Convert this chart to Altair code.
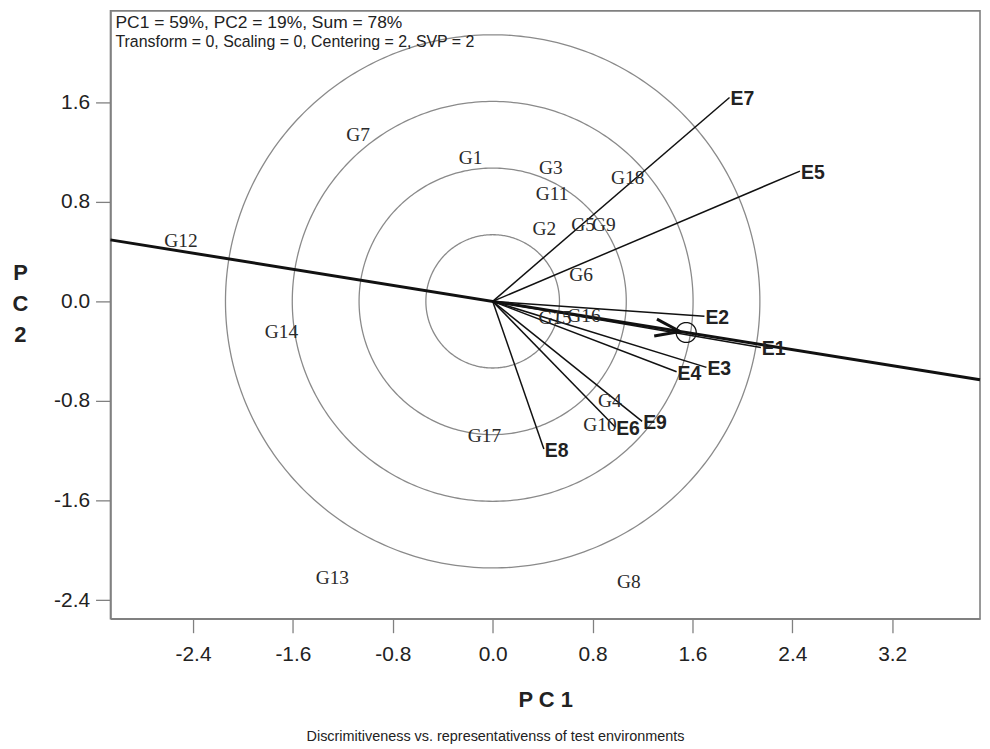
import numpy as np
import pandas as pd
import altair as alt

# ---- data ----
genotypes = ["G1", "G2", "G3", "G4", "G5", "G6", "G7", "G8", "G9", "G10",
             "G11", "G12", "G13", "G14", "G15", "G16", "G17", "G18"]
g_x = [-0.177, 0.413, 0.465, 0.939, 0.724, 0.708, -1.078, 1.090, 0.891, 0.859,
       0.476, -2.496, -1.284, -1.691, 0.500, 0.731, -0.065, 1.082]
g_y = [1.150, 0.583, 1.074, -0.799, 0.611, 0.208, 1.334, -2.252, 0.611, -0.990,
       0.863, 0.487, -2.220, -0.248, -0.136, -0.120, -1.078, 0.990]

envs = ["E1", "E2", "E3", "E4", "E5", "E6", "E7", "E8", "E9"]
e_x = [2.148, 1.696, 1.712, 1.473, 2.461, 0.981, 1.897, 0.410, 1.197]
e_y = [-0.370, -0.120, -0.530, -0.565, 1.046, -1.009, 1.637, -1.185, -0.964]

circle_radii = [0.535, 1.07, 1.605, 2.14]
aea_point = [1.55, -0.25]          # average environment coordinate
aea_marker_radius = 0.08

x_ticks = [-2.4, -1.6, -0.8, 0.0, 0.8, 1.6, 2.4, 3.2]
y_ticks = [-2.4, -1.6, -0.8, 0.0, 0.8, 1.6]
x_domain = [-3.061, 3.903]
y_domain = [-2.548, 2.332]

info_line1 = "PC1 = 59%, PC2 = 19%, Sum = 78%"
info_line2 = "Transform = 0, Scaling = 0, Centering = 2, SVP = 2"
caption = "Discrimitiveness vs. representativenss of test environments"

# ---- derived tables ----
theta = np.linspace(0, 2 * np.pi, 361)
circ = pd.concat([
    pd.DataFrame({"r": r, "i": np.arange(len(theta)),
                  "x": r * np.cos(theta), "y": r * np.sin(theta)})
    for r in circle_radii
])

ax, ay = aea_point
slope = ay / ax
aea_line = pd.DataFrame({"x": x_domain, "y": [slope * v for v in x_domain]})

mini = pd.DataFrame({"i": np.arange(len(theta)),
                     "x": ax + aea_marker_radius * np.cos(theta),
                     "y": ay + aea_marker_radius * np.sin(theta)})

norm = np.hypot(ax, ay)
d = np.array([ax, ay]) / norm
tip = np.array([ax, ay]) - 0.05 * d
barbs = []
for ang in (np.radians(19), -np.radians(19)):
    rx = -d[0] * np.cos(ang) + d[1] * np.sin(ang)
    ry = -d[0] * np.sin(ang) - d[1] * np.cos(ang)
    barbs.append({"x0": tip[0], "y0": tip[1], "x": tip[0] + 0.21 * rx, "y": tip[1] + 0.21 * ry})
barbs = pd.DataFrame(barbs)

geno = pd.DataFrame({"name": genotypes, "x": g_x, "y": g_y})
env = pd.DataFrame({"name": envs, "x": e_x, "y": e_y, "x0": 0.0, "y0": 0.0})

# ---- scales / axes ----
SANS = "Liberation Sans, Arial, sans-serif"
SERIF = "Liberation Serif, Times New Roman, serif"
label_expr = "datum.value < 0 ? '-' + format(-datum.value, '.1f') : format(datum.value, '.1f')"

xscale = alt.Scale(domain=x_domain, nice=False, zero=False)
yscale = alt.Scale(domain=y_domain, nice=False, zero=False)

xaxis = alt.Axis(values=x_ticks, labelExpr=label_expr, title="P C 1",
                 titleFont=SANS, titleFontSize=22, titleFontWeight="bold", titleColor="#222",
                 titleY=81, titleBaseline="middle",
                 labelFont=SANS, labelFontSize=21, labelColor="#222", labelPadding=11,
                 tickSize=14, tickColor="#808080", tickWidth=1.3,
                 domainColor="#808080", domainWidth=1.6, grid=False)
yaxis = alt.Axis(values=y_ticks, labelExpr=label_expr, title=["P", "C", "2"],
                 titleFont=SANS, titleFontSize=22, titleFontWeight="bold", titleColor="#222",
                 titleAngle=0, titleAlign="center", titleBaseline="middle",
                 titleX=-91, titleY=263, titleLineHeight=31,
                 labelFont=SANS, labelFontSize=21, labelColor="#222", labelPadding=6,
                 tickSize=15, tickColor="#808080", tickWidth=1.3,
                 domainColor="#808080", domainWidth=1.6, grid=False)


def X(field):
    return alt.X(field, type="quantitative", scale=xscale, axis=xaxis)


def Y(field):
    return alt.Y(field, type="quantitative", scale=yscale, axis=yaxis)


circles = alt.Chart(circ).mark_line(color="#8a8a8a", strokeWidth=1.3).encode(
    x=X("x"), y=Y("y"), detail="r:N", order="i:Q")

axis_line = alt.Chart(aea_line).mark_line(color="#111", strokeWidth=3).encode(
    x=X("x"), y=Y("y"))

vectors = alt.Chart(env).mark_rule(color="#111", strokeWidth=1.5).encode(
    x=X("x0"), y=Y("y0"), x2="x", y2="y")

arrow = alt.Chart(barbs).mark_rule(color="#111", strokeWidth=3).encode(
    x=X("x0"), y=Y("y0"), x2="x", y2="y")

marker = alt.Chart(mini).mark_line(color="#111", strokeWidth=1.3).encode(
    x=X("x"), y=Y("y"), order="i:Q")

geno_text = alt.Chart(geno).mark_text(font=SERIF, fontSize=19.5, color="#2a2a2a",
                                      align="center", baseline="middle").encode(
    x=X("x"), y=Y("y"), text="name")

env_text = alt.Chart(env).mark_text(font=SANS, fontSize=19.5, fontWeight="bold", color="#222",
                                    align="left", baseline="middle", dx=1, dy=2).encode(
    x=X("x"), y=Y("y"), text="name")

info1 = alt.Chart(pd.DataFrame({"t": [info_line1]})).mark_text(
    font=SANS, fontSize=17.5, color="#222", align="left", baseline="middle").encode(
    x=alt.value(5), y=alt.value(12), text="t")
info2 = alt.Chart(pd.DataFrame({"t": [info_line2]})).mark_text(
    font=SANS, fontSize=16, color="#222", align="left", baseline="middle").encode(
    x=alt.value(5), y=alt.value(31), text="t")

chart = alt.layer(circles, axis_line, vectors, arrow, marker, geno_text, env_text, info1, info2).properties(
    width=874, height=611,
    autosize=alt.AutoSizeParams(type="none"),
    padding={"left": 103, "top": 1, "right": 2, "bottom": 125},
    title=alt.TitleParams(caption, orient="bottom", anchor="middle", frame="group",
                          font=SANS, fontSize=14.5, fontWeight="normal", color="#222",
                          offset=20, dx=-50),
).configure_view(stroke="#808080", strokeWidth=1.6)

chart.save("out.html", embed_options={"renderer": "svg", "actions": False})
